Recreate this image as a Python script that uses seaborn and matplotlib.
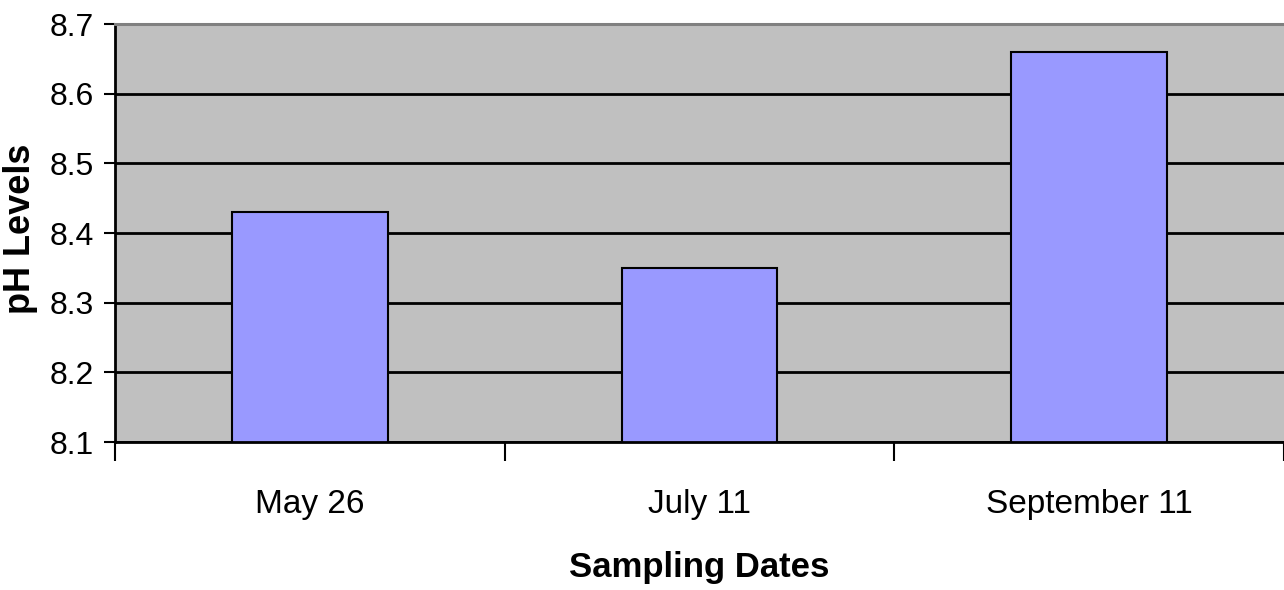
import matplotlib
matplotlib.use("Agg")
import matplotlib.pyplot as plt
import pandas as pd
import seaborn as sns

# Данные с графика: pH по датам отбора проб
DATES = ["May 26", "July 11", "September 11"]
PH_VALUES = [8.43, 8.35, 8.66]
Y_TICKS = [8.1, 8.2, 8.3, 8.4, 8.5, 8.6, 8.7]

FONTS = ["Liberation Sans", "DejaVu Sans"]

sns.set_theme(style="white")
plt.rcParams["font.family"] = FONTS
for key in ["text.color", "axes.labelcolor", "xtick.color", "ytick.color"]:
    plt.rcParams[key] = "black"

df = pd.DataFrame({"date": DATES, "ph": PH_VALUES})

fig = plt.figure(figsize=(12.84, 5.90), dpi=100)
ax = fig.add_axes([0.0896, 0.2508, 0.9104, 0.7085])
ax.set_facecolor("#C0C0C0")

sns.barplot(data=df, x="date", y="ph", color="#9999FF", width=0.4,
            edgecolor="black", linewidth=1.5, saturation=1, ax=ax)

ax.set_ylim(8.1, 8.7)
ax.set_xlim(-0.5, len(DATES) - 0.5)
ax.set_yticks(Y_TICKS)
ax.set_yticklabels([f"{v:.1f}" for v in Y_TICKS], fontsize=23)
ax.yaxis.grid(True, color="black", linewidth=2.0)
ax.set_axisbelow(True)

# метки категорий по центру, засечки на границах
ax.set_xticks([i - 0.5 for i in range(len(DATES) + 1)])
ax.set_xticklabels([])
ax.set_xticks(range(len(DATES)), minor=True)
ax.set_xticklabels(DATES, minor=True, fontsize=24)
ax.tick_params(axis="x", which="major", length=14, width=1.5, color="black",
               direction="out", bottom=True)
ax.tick_params(axis="x", which="minor", length=0, pad=34)
ax.tick_params(axis="y", length=8, width=1.5, color="black", direction="out",
               left=True, pad=7)

for side in ["left", "bottom"]:
    ax.spines[side].set_color("black")
    ax.spines[side].set_linewidth(2.0)
ax.spines["top"].set_color("#808080")
ax.spines["top"].set_linewidth(2.2)
ax.spines["right"].set_visible(False)

ax.set_xlabel("Sampling Dates", fontsize=25, fontweight="bold", labelpad=22)
ax.set_ylabel("pH Levels", fontsize=26, fontweight="bold")
ax.yaxis.set_label_coords(-0.066, 0.51)

fig.savefig("out.png", dpi=100)
